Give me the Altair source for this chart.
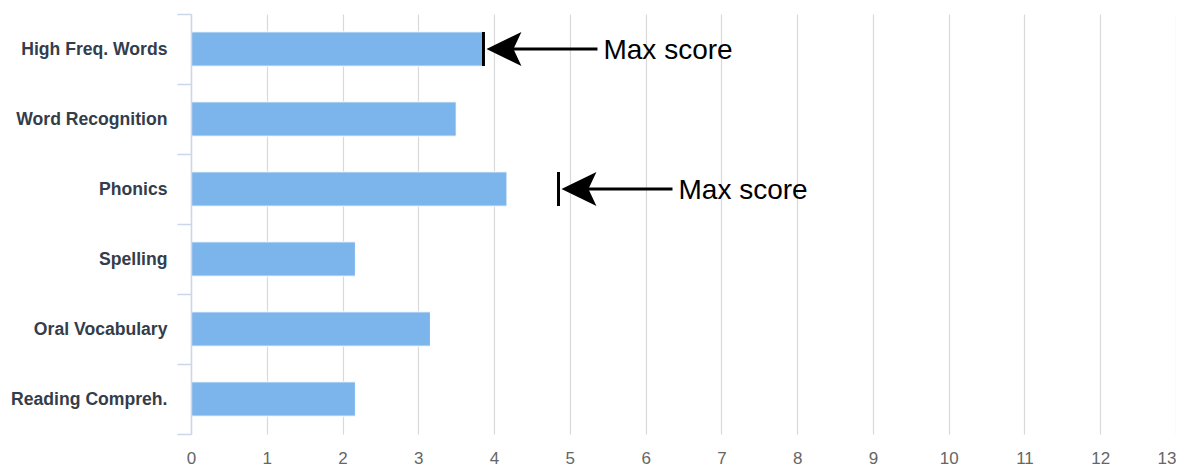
import altair as alt
import pandas as pd

# ---- data ----
categories = ["High Freq. Words", "Word Recognition", "Phonics",
              "Spelling", "Oral Vocabulary", "Reading Compreh."]
scores = [3.86, 3.5, 4.17, 2.17, 3.16, 2.17]

ann_categories = ["High Freq. Words", "Phonics"]
ann_max = [3.86, 4.85]
ann_labels = ["Max score", "Max score"]

x_ticks = list(range(0, 14))

bars_df = pd.DataFrame({"category": categories, "score": scores})
ann_df = pd.DataFrame({"category": ann_categories, "max": ann_max, "label": ann_labels})

FONT = "Liberation Sans"
ARROW = "M-1,0 L0.84,-0.89 L0.42,0 L0.84,0.89 Z"

y_enc = alt.Y(
    "category:N",
    sort=categories,
    scale=alt.Scale(paddingInner=0, paddingOuter=0),
    axis=alt.Axis(
        title=None,
        domainColor="#ccd6eb",
        domainWidth=1.5,
        tickColor="#ccd6eb",
        tickWidth=1.5,
        tickSize=14,
        tickBand="extent",
        labelFont=FONT,
        labelFontSize=17.6,
        labelFontWeight="bold",
        labelColor="#333d4b",
        labelPadding=10,
        grid=False,
        zindex=1,
    ),
)

x_scale = alt.Scale(domain=[0, 13], nice=False)

bars = alt.Chart(bars_df).mark_bar(
    color="#7cb5ec", stroke="white", strokeWidth=1, height={"band": 0.49}
).encode(
    x=alt.X(
        "score:Q",
        scale=x_scale,
        axis=alt.Axis(
            title=None,
            values=x_ticks,
            format="d",
            grid=True,
            gridColor="#d9d9d9",
            gridWidth=1.2,
            domain=False,
            ticks=False,
            labelFont=FONT,
            labelFontSize=17,
            labelColor="#666666",
            labelPadding=16,
            labelAlign={"condition": {"test": "datum.value == 13", "value": "right"}, "value": "center"},
        ),
    ),
    y=y_enc,
)

ann = alt.Chart(ann_df)

marker = ann.mark_tick(color="black", thickness=3, size=34, orient="vertical", opacity=1).encode(
    x=alt.X("max:Q", scale=x_scale),
    y=alt.Y("category:N", sort=categories),
)

shaft = ann.mark_rule(color="black", strokeWidth=3, xOffset=28, x2Offset=114).encode(
    x=alt.X("max:Q", scale=x_scale),
    x2=alt.X2("max:Q"),
    y=alt.Y("category:N", sort=categories),
)

head = ann.mark_point(
    shape=ARROW, size=1444, filled=True, color="black", opacity=1, strokeWidth=0, xOffset=22
).encode(
    x=alt.X("max:Q", scale=x_scale),
    y=alt.Y("category:N", sort=categories),
)

label = ann.mark_text(
    align="left", baseline="middle", dx=120, dy=2, fontSize=28, font=FONT, color="black"
).encode(
    x=alt.X("max:Q", scale=x_scale),
    y=alt.Y("category:N", sort=categories),
    text="label:N",
)

chart = alt.layer(bars, marker, shaft, head, label).properties(
    width=985,
    height=420,
    autosize=alt.AutoSizeParams(type="none"),
    padding={"left": 183, "top": 6, "right": 0, "bottom": 32},
).configure_view(stroke=None)

chart.save("out.html", embed_options={"renderer": "svg", "actions": False})
